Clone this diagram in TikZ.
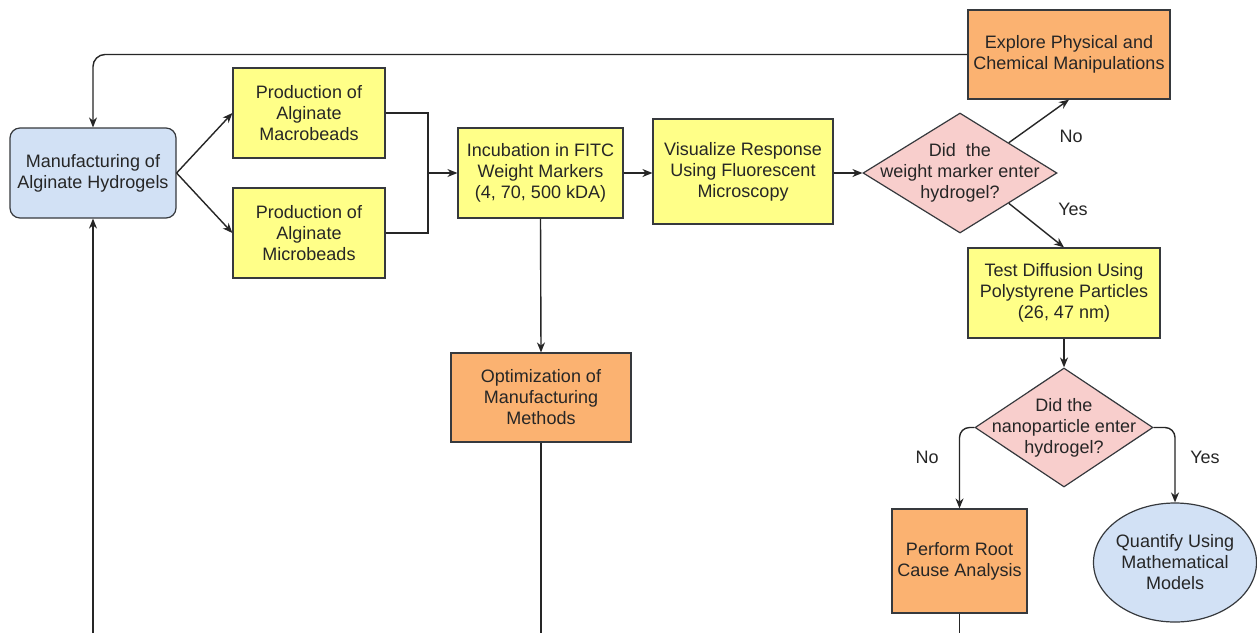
\documentclass[tikz,border=0pt]{standalone}
\usepackage{fontspec}
\setmainfont{Liberation Sans}
\usetikzlibrary{shapes.geometric,arrows.meta}
\definecolor{yel}{HTML}{FFFF88}
\definecolor{ora}{HTML}{FBB271}
\definecolor{blu}{HTML}{D2E1F5}
\definecolor{pnk}{HTML}{F8CECC}
\definecolor{edgec}{HTML}{36393D}
\definecolor{txt}{HTML}{262626}
\begin{document}
\begin{tikzpicture}[x=1pt,y=-1pt,
  font=\fontsize{18}{21}\selectfont,
  base/.style={draw=edgec, line width=1.2pt, align=center, inner sep=0pt, text=txt},
  ybox/.style={base, rectangle, fill=yel},
  obox/.style={base, rectangle, fill=ora},
  conn/.style={line width=1.4pt, draw=txt},
  arr/.style={conn, -{Stealth[length=10pt,width=8pt]}},
  txtnode/.style={align=center, inner sep=0pt, text=txt}
]
\useasboundingbox[fill=white] (0,0) rectangle (1257,633);

% nodes
\node[base, rounded corners=10pt, fill=blu, minimum width=166pt, minimum height=90pt] (man) at (93,173) {Manufacturing of\\Alginate Hydrogels};
\node[ybox, minimum width=152pt, minimum height=90pt] (macro) at (309,113) {Production of\\Alginate\\Macrobeads};
\node[ybox, minimum width=152pt, minimum height=90pt] (micro) at (309,233) {Production of\\Alginate\\Microbeads};
\node[ybox, minimum width=165pt, minimum height=90pt] (inc) at (540.5,173) {Incubation in FITC\\Weight Markers\\(4, 70, 500 kDA)};
\node[ybox, minimum width=180pt, minimum height=105pt] (vis) at (743,171.5) {Visualize Response\\Using Fluorescent\\Microscopy};
\node[diamond, draw=edgec, line width=1.2pt, fill=pnk, minimum width=194pt, minimum height=120pt, inner sep=0pt] (d1) at (960,173) {};
\node[txtnode] (d1t) at (960,173) {Did~ the\\weight marker enter\\hydrogel?};
\node[obox, minimum width=202pt, minimum height=89pt] (exp) at (1069,54.5) {Explore Physical and\\Chemical Manipulations};
\node[ybox, minimum width=192pt, minimum height=90pt] (test) at (1064,293) {Test Diffusion Using\\Polystyrene Particles\\(26, 47 nm)};
\node[diamond, draw=edgec, line width=1.2pt, fill=pnk, minimum width=178pt, minimum height=119pt, inner sep=0pt] (d2) at (1064,427.5) {};
\node[txtnode] (d2t) at (1064,427.5) {Did the\\nanoparticle enter\\hydrogel?};
\node[obox, minimum width=135pt, minimum height=104pt] (perf) at (959.5,561) {Perform Root\\Cause Analysis};
\node[ellipse, draw=edgec, line width=1.2pt, fill=blu, minimum width=163pt, minimum height=119pt, inner sep=0pt] (ell) at (1175,562.5) {};
\node[txtnode] (ellt) at (1175,562.5) {Quantify Using\\Mathematical\\Models};
\node[obox, minimum width=180pt, minimum height=89pt] (opt) at (541,397.5) {Optimization of\\Manufacturing\\Methods};

% labels
\node[txtnode] (lno1) at (1071,136) {No};
\node[txtnode] (lyes1) at (1073,209) {Yes};
\node[txtnode] (lno2) at (927,457) {No};
\node[txtnode] (lyes2) at (1205,457) {Yes};

% coordinates
\coordinate (j) at (428,173);
\coordinate (b1) at (93,633);
\coordinate (b2) at (541,633);
\coordinate (b3) at (959.5,633);

% connectors
\draw[arr] (man.east) -- (macro.west);
\draw[arr] (man.east) -- (micro.west);
\draw[conn] (macro.east) -| (j);
\draw[conn] (micro.east) -| (j);
\draw[arr] (j) -- (inc.west);
\draw[arr] (inc.east) -- (vis.west |- inc.east);
\draw[arr] (vis.east |- d1.west) -- (d1.west);
\draw[arr] (d1.north east) -- (exp.south);
\draw[arr] (d1.south east) -- (test.north);
\draw[arr] (test.south) -- (d2.north);
\draw[arr, rounded corners=10pt] (d2.west) -| (perf.north);
\draw[arr, rounded corners=10pt] (d2.east) -| (ell.north);
\draw[conn] (perf.south) -- (b3);
\draw[arr] (inc.south) -- (opt.north);
\draw[conn] (opt.south) -- (b2);
\draw[arr] (b1) -- (man.south);
\draw[arr, rounded corners=12pt] (exp.west) -| (man.north);
\end{tikzpicture}
\end{document}
